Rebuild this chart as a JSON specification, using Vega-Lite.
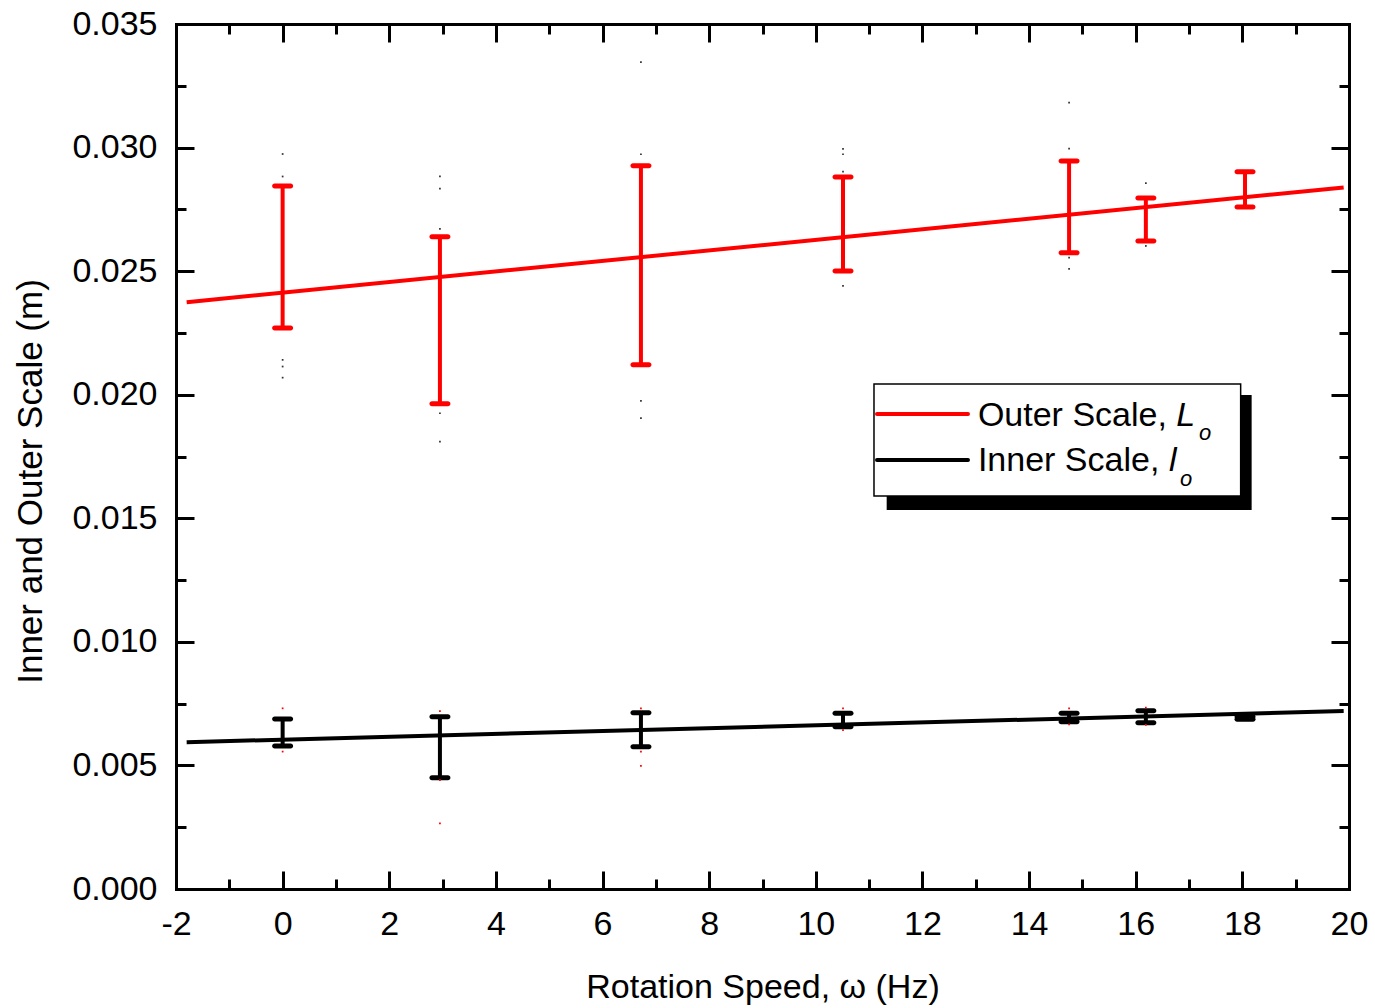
{
  "$schema": "https://vega.github.io/schema/vega-lite/v6.json",
  "width": 1173,
  "height": 865,
  "autosize": {"type": "none"},
  "padding": {"left": 176, "top": 24, "right": 26, "bottom": 119},
  "background": "white",
  "config": {
    "view": {"stroke": null},
    "font": "Liberation Sans",
    "axis": {
      "grid": false,
      "domainColor": "black",
      "domainWidth": 3,
      "domainCap": "square",
      "tickColor": "black",
      "tickWidth": 3,
      "labelFont": "Liberation Sans",
      "labelFontSize": 34,
      "labelColor": "black",
      "labelFlush": false,
      "labelOverlap": false,
      "labelBound": false,
      "titleFont": "Liberation Sans",
      "titleFontSize": 34,
      "titleFontWeight": "normal",
      "titleColor": "black"
    }
  },
  "datasets": {
    "outer": [
      {"speed": 0, "scale": 0.02557, "lo": 0.02270, "hi": 0.02845},
      {"speed": 2.95, "scale": 0.02301, "lo": 0.01963, "hi": 0.02639},
      {"speed": 6.72, "scale": 0.02523, "lo": 0.02121, "hi": 0.02926},
      {"speed": 10.51, "scale": 0.02691, "lo": 0.02501, "hi": 0.02881},
      {"speed": 14.75, "scale": 0.02760, "lo": 0.02574, "hi": 0.02946},
      {"speed": 16.19, "scale": 0.02709, "lo": 0.02622, "hi": 0.02796},
      {"speed": 18.05, "scale": 0.02831, "lo": 0.02760, "hi": 0.02902}
    ],
    "inner": [
      {"speed": 0, "scale": 0.00633, "lo": 0.00579, "hi": 0.00688},
      {"speed": 2.95, "scale": 0.00574, "lo": 0.00450, "hi": 0.00697},
      {"speed": 6.72, "scale": 0.00645, "lo": 0.00576, "hi": 0.00713},
      {"speed": 10.51, "scale": 0.00684, "lo": 0.00657, "hi": 0.00711},
      {"speed": 14.75, "scale": 0.00694, "lo": 0.00677, "hi": 0.00711},
      {"speed": 16.19, "scale": 0.00697, "lo": 0.00673, "hi": 0.00721},
      {"speed": 18.05, "scale": 0.00692, "lo": 0.00687, "hi": 0.00697}
    ],
    "outerFit": [
      {"speed": -1.8, "scale": 0.023745},
      {"speed": 19.9, "scale": 0.028385}
    ],
    "innerFit": [
      {"speed": -1.8, "scale": 0.00594},
      {"speed": 19.9, "scale": 0.00720}
    ],
    "outerDots": [
      {"speed": 0, "scale": 0.02974}, {"speed": 0, "scale": 0.02883}, {"speed": 0, "scale": 0.02141}, {"speed": 0, "scale": 0.02114}, {"speed": 0, "scale": 0.02069},
      {"speed": 2.95, "scale": 0.02883}, {"speed": 2.95, "scale": 0.02834}, {"speed": 2.95, "scale": 0.02671}, {"speed": 2.95, "scale": 0.01925}, {"speed": 2.95, "scale": 0.01810},
      {"speed": 6.72, "scale": 0.03346}, {"speed": 6.72, "scale": 0.02973}, {"speed": 6.72, "scale": 0.01975}, {"speed": 6.72, "scale": 0.01905},
      {"speed": 10.51, "scale": 0.02995}, {"speed": 10.51, "scale": 0.02973}, {"speed": 10.51, "scale": 0.02903}, {"speed": 10.51, "scale": 0.02440},
      {"speed": 14.75, "scale": 0.03182}, {"speed": 14.75, "scale": 0.02996}, {"speed": 14.75, "scale": 0.02555}, {"speed": 14.75, "scale": 0.02509},
      {"speed": 16.19, "scale": 0.02856}, {"speed": 16.19, "scale": 0.02602}
    ],
    "innerDots": [
      {"speed": 0, "scale": 0.00731}, {"speed": 0, "scale": 0.00556},
      {"speed": 2.95, "scale": 0.00720}, {"speed": 2.95, "scale": 0.00441}, {"speed": 2.95, "scale": 0.00266},
      {"speed": 6.72, "scale": 0.00731}, {"speed": 6.72, "scale": 0.00556}, {"speed": 6.72, "scale": 0.00498},
      {"speed": 10.51, "scale": 0.00731}, {"speed": 10.51, "scale": 0.00643},
      {"speed": 14.75, "scale": 0.00731}, {"speed": 14.75, "scale": 0.00666},
      {"speed": 16.19, "scale": 0.00734}, {"speed": 16.19, "scale": 0.00664}
    ]
  },
  "resolve": {"axis": {"x": "independent", "y": "independent"}},
  "layer": [
    {
      "data": {"name": "outerFit"},
      "mark": {"type": "line", "color": "#ff0000", "strokeWidth": 4},
      "encoding": {
        "x": {"field": "speed", "type": "quantitative", "scale": {"domain": [-2, 20], "nice": false, "zero": false},
              "axis": {"orient": "bottom", "values": [-2, 0, 2, 4, 6, 8, 10, 12, 14, 16, 18, 20], "labelExpr": "replace(datum.label, '−', '-')", "tickSize": -18, "labelPadding": 36, "title": "Rotation Speed, ω (Hz)", "titlePadding": 29}},
        "y": {"field": "scale", "type": "quantitative", "scale": {"domain": [0, 0.035], "nice": false, "zero": false},
              "axis": {"orient": "left", "values": [0, 0.005, 0.01, 0.015, 0.02, 0.025, 0.03, 0.035], "format": ".3f", "tickSize": -18, "labelPadding": 37, "title": "Inner and Outer Scale (m)", "titleFontSize": 35, "titlePadding": 23, "titleY": 457}}
      }
    },
    {
      "data": {"name": "innerFit"},
      "mark": {"type": "line", "color": "black", "strokeWidth": 4},
      "encoding": {
        "x": {"field": "speed", "type": "quantitative",
              "axis": {"orient": "top", "values": [-2, 0, 2, 4, 6, 8, 10, 12, 14, 16, 18, 20], "tickSize": -18, "labels": false, "title": null}},
        "y": {"field": "scale", "type": "quantitative",
              "axis": {"orient": "right", "values": [0, 0.005, 0.01, 0.015, 0.02, 0.025, 0.03, 0.035], "tickSize": -18, "labels": false, "title": null}}
      }
    },
    {
      "data": {"name": "outer"},
      "mark": {"type": "rule", "color": "#ff0000", "strokeWidth": 4},
      "encoding": {
        "x": {"field": "speed", "type": "quantitative",
              "axis": {"orient": "bottom", "values": [-1, 1, 3, 5, 7, 9, 11, 13, 15, 17, 19], "tickSize": -10, "labels": false, "domain": false, "title": null}},
        "y": {"field": "lo", "type": "quantitative",
              "axis": {"orient": "left", "values": [0.0025, 0.0075, 0.0125, 0.0175, 0.0225, 0.0275, 0.0325], "tickSize": -10, "labels": false, "domain": false, "title": null}},
        "y2": {"field": "hi"}
      }
    },
    {
      "data": {"name": "inner"},
      "mark": {"type": "rule", "color": "black", "strokeWidth": 4},
      "encoding": {
        "x": {"field": "speed", "type": "quantitative",
              "axis": {"orient": "top", "values": [-1, 1, 3, 5, 7, 9, 11, 13, 15, 17, 19], "tickSize": -10, "labels": false, "domain": false, "title": null}},
        "y": {"field": "lo", "type": "quantitative",
              "axis": {"orient": "right", "values": [0.0025, 0.0075, 0.0125, 0.0175, 0.0225, 0.0275, 0.0325], "tickSize": -10, "labels": false, "domain": false, "title": null}},
        "y2": {"field": "hi"}
      }
    },
    {
      "data": {"name": "outer"},
      "mark": {"type": "tick", "orient": "horizontal", "color": "#ff0000", "size": 21, "thickness": 5, "cornerRadius": 2.5, "opacity": 1},
      "encoding": {
        "x": {"field": "speed", "type": "quantitative", "axis": null},
        "y": {"field": "lo", "type": "quantitative", "axis": null}
      }
    },
    {
      "data": {"name": "outer"},
      "mark": {"type": "tick", "orient": "horizontal", "color": "#ff0000", "size": 21, "thickness": 5, "cornerRadius": 2.5, "opacity": 1},
      "encoding": {
        "x": {"field": "speed", "type": "quantitative", "axis": null},
        "y": {"field": "hi", "type": "quantitative", "axis": null}
      }
    },
    {
      "data": {"name": "inner"},
      "mark": {"type": "tick", "orient": "horizontal", "color": "black", "size": 21, "thickness": 5, "cornerRadius": 2.5, "opacity": 1},
      "encoding": {
        "x": {"field": "speed", "type": "quantitative", "axis": null},
        "y": {"field": "lo", "type": "quantitative", "axis": null}
      }
    },
    {
      "data": {"name": "inner"},
      "mark": {"type": "tick", "orient": "horizontal", "color": "black", "size": 21, "thickness": 5, "cornerRadius": 2.5, "opacity": 1},
      "encoding": {
        "x": {"field": "speed", "type": "quantitative", "axis": null},
        "y": {"field": "hi", "type": "quantitative", "axis": null}
      }
    },
    {
      "data": {"name": "outerDots"},
      "mark": {"type": "square", "color": "#333333", "size": 3, "opacity": 1},
      "encoding": {
        "x": {"field": "speed", "type": "quantitative", "axis": null},
        "y": {"field": "scale", "type": "quantitative", "axis": null}
      }
    },
    {
      "data": {"name": "innerDots"},
      "mark": {"type": "square", "color": "#ff0000", "size": 3, "opacity": 1},
      "encoding": {
        "x": {"field": "speed", "type": "quantitative", "axis": null},
        "y": {"field": "scale", "type": "quantitative", "axis": null}
      }
    },
    {
      "data": {"values": [{"x1": 11.329, "x2": 18.174, "y1": 0.019988, "y2": 0.015335}]},
      "mark": {"type": "rect", "color": "black"},
      "encoding": {
        "x": {"field": "x1", "type": "quantitative", "axis": null},
        "x2": {"field": "x2"},
        "y": {"field": "y1", "type": "quantitative", "axis": null},
        "y2": {"field": "y2"}
      }
    },
    {
      "data": {"values": [{"x1": 11.091, "x2": 17.968, "y1": 0.020434, "y2": 0.015902}]},
      "mark": {"type": "rect", "fill": "white", "stroke": "black", "strokeWidth": 1.5},
      "encoding": {
        "x": {"field": "x1", "type": "quantitative", "axis": null},
        "x2": {"field": "x2"},
        "y": {"field": "y1", "type": "quantitative", "axis": null},
        "y2": {"field": "y2"}
      }
    },
    {
      "data": {"values": [
        {"series": "Outer", "x1": 11.147, "x2": 12.854, "y": 0.019220},
        {"series": "Inner", "x1": 11.147, "x2": 12.854, "y": 0.017359}
      ]},
      "mark": {"type": "rule", "strokeWidth": 4, "strokeCap": "round"},
      "encoding": {
        "x": {"field": "x1", "type": "quantitative", "axis": null},
        "x2": {"field": "x2"},
        "y": {"field": "y", "type": "quantitative", "axis": null},
        "color": {"field": "series", "type": "nominal", "scale": {"domain": ["Outer", "Inner"], "range": ["#ff0000", "black"]}, "legend": null}
      }
    },
    {
      "data": {"values": [
        {"label": "Outer Scale, ", "x": 13.04, "y": 0.018734},
        {"label": "Inner Scale, ", "x": 13.04, "y": 0.016926}
      ]},
      "mark": {"type": "text", "align": "left", "baseline": "alphabetic", "font": "Liberation Sans", "fontSize": 34, "color": "black"},
      "encoding": {
        "x": {"field": "x", "type": "quantitative", "axis": null},
        "y": {"field": "y", "type": "quantitative", "axis": null},
        "text": {"field": "label"}
      }
    },
    {
      "data": {"values": [
        {"label": "L", "x": 16.762, "y": 0.018734},
        {"label": "l", "x": 16.623, "y": 0.016926}
      ]},
      "mark": {"type": "text", "align": "left", "baseline": "alphabetic", "font": "Liberation Sans", "fontSize": 34, "fontStyle": "italic", "color": "black"},
      "encoding": {
        "x": {"field": "x", "type": "quantitative", "axis": null},
        "y": {"field": "y", "type": "quantitative", "axis": null},
        "text": {"field": "label"}
      }
    },
    {
      "data": {"values": [
        {"label": "o", "x": 17.186, "y": 0.018168},
        {"label": "o", "x": 16.83, "y": 0.016307}
      ]},
      "mark": {"type": "text", "align": "left", "baseline": "alphabetic", "font": "Liberation Sans", "fontSize": 22, "fontStyle": "italic", "color": "black"},
      "encoding": {
        "x": {"field": "x", "type": "quantitative", "axis": null},
        "y": {"field": "y", "type": "quantitative", "axis": null},
        "text": {"field": "label"}
      }
    }
  ]
}
